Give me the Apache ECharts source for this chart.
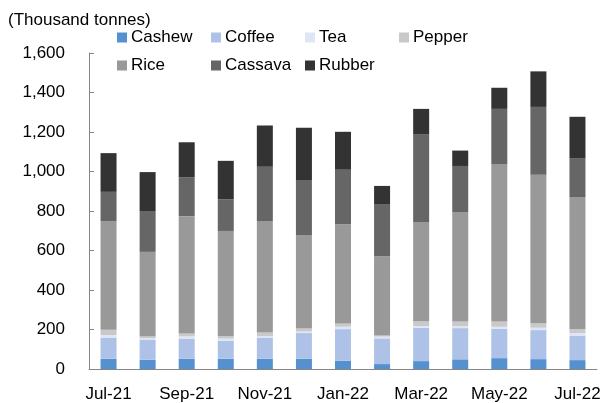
<!DOCTYPE html>
<html lang="en">
<head>
  <meta charset="UTF-8">
  <title>Exports</title>
  <script src="https://cdn.jsdelivr.net/npm/echarts@6/dist/echarts.min.js"></script>
  <style>
    html, body { margin: 0; padding: 0; background: #fff; }
    #main { width: 606px; height: 403px; }
  </style>
</head>
<body>
  <div id="main"></div>
  <script type="text/javascript">
    var months = ['Jul-21','Aug-21','Sep-21','Oct-21','Nov-21','Dec-21','Jan-22','Feb-22','Mar-22','Apr-22','May-22','Jun-22','Jul-22'];
    var cashew  = [52, 47, 52, 52, 52, 52, 42, 25, 40, 49, 55, 50, 45];
    var coffee  = [107, 102, 100, 90, 105, 130, 160, 130, 169, 158, 149, 147, 124];
    var tea     = [13, 8, 13, 12, 10, 8, 12, 9, 8, 10, 10, 12, 13];
    var pepper  = [27, 7, 15, 13, 18, 15, 17, 6, 25, 24, 27, 23, 19];
    var rice    = [548, 429, 594, 532, 565, 473, 502, 401, 500, 554, 797, 751, 670];
    var cassava = [150, 207, 197, 160, 274, 279, 276, 261, 446, 233, 279, 344, 197];
    var rubber  = [196, 197, 177, 195, 209, 265, 192, 95, 129, 78, 107, 180, 209];

    var names = ['Cashew','Coffee','Tea','Pepper','Rice','Cassava','Rubber'];
    var colors = ['#5590CF','#ADC2E6','#DEE6F5','#C9C9C9','#999999','#666666','#333333'];
    var values = [cashew, coffee, tea, pepper, rice, cassava, rubber];

    var font = 'Liberation Sans, Arial, sans-serif';
    var chart = echarts.init(document.getElementById('main'));

    var series = names.map(function (n, i) {
      return {
        name: n,
        type: 'bar',
        stack: 'total',
        barWidth: 16,
        itemStyle: { color: colors[i] },
        data: values[i]
      };
    });

    // legend laid out in columns like the original (two rows)
    var cols = [['Cashew','Rice'], ['Coffee','Cassava'], ['Tea','Rubber'], ['Pepper']];
    var colX = [117, 211, 305, 399];
    var legends = cols.map(function (c, i) {
      return {
        data: c,
        orient: 'vertical',
        left: colX[i],
        top: 29,
        padding: 0,
        itemWidth: 10,
        itemHeight: 10,
        itemGap: 11,
        icon: 'rect',
        textStyle: { fontFamily: font, fontSize: 17, color: '#000', padding: [0, 0, 0, -1] }
      };
    });

    var option = {
      animation: false,
      title: {
        text: '(Thousand tonnes)',
        left: 3,
        top: 7,
        textStyle: { fontFamily: font, fontSize: 17, fontWeight: 'normal', color: '#000' }
      },
      legend: legends,
      grid: { left: 89, right: 9, top: 53, bottom: 31, containLabel: false },
      xAxis: {
        type: 'category',
        data: months,
        axisLine: { lineStyle: { color: '#868686', width: 1 } },
        axisTick: { inside: true, length: 4, lineStyle: { color: '#000' } },
        axisLabel: { interval: 1, margin: 17, fontFamily: font, fontSize: 17, color: '#000' }
      },
      yAxis: {
        type: 'value',
        min: 0,
        max: 1600,
        interval: 200,
        splitLine: { show: false },
        axisLine: { show: true, lineStyle: { color: '#868686' } },
        axisTick: { show: true, inside: true, length: 5, lineStyle: { color: '#868686' } },
        axisLabel: {
          margin: 24,
          fontFamily: font,
          fontSize: 17,
          color: '#000',
          formatter: function (v) { return v.toLocaleString('en-US'); }
        }
      },
      series: series
    };

    chart.setOption(option);
  </script>
</body>
</html>
